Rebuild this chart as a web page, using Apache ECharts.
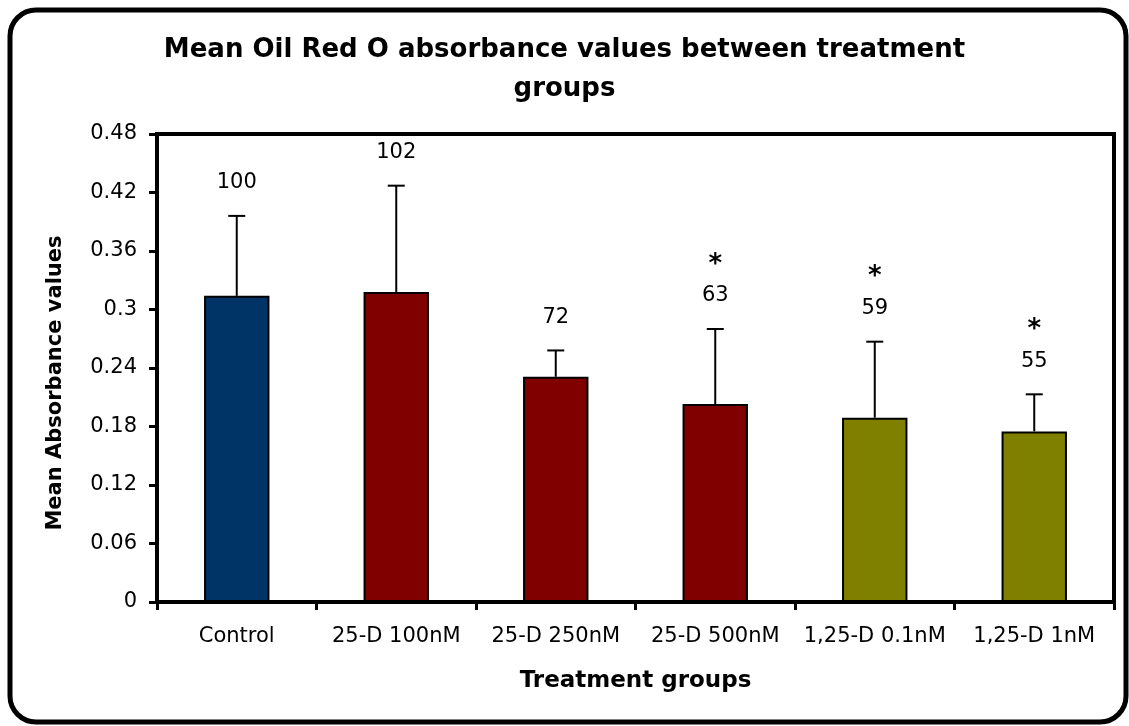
<!DOCTYPE html>
<html>
<head>
<meta charset="utf-8">
<script src="https://cdn.jsdelivr.net/npm/echarts@6/dist/echarts.min.js"></script>
<style>
html,body{margin:0;padding:0;background:#fff;}
#chart{width:1129px;height:726px;}
</style>
</head>
<body>
<div id="chart"></div>
<script>
// ---- data ----
const categories = ['Control', '25-D 100nM', '25-D 250nM', '25-D 500nM', '1,25-D 0.1nM', '1,25-D 1nM'];
const means = [0.314, 0.318, 0.231, 0.203, 0.189, 0.175];
const errors = [0.082, 0.109, 0.027, 0.077, 0.078, 0.038];
const percentLabels = ['100', '102', '72', '63', '59', '55'];
const significant = [false, false, false, true, true, true];
const yTicks = [0, 0.06, 0.12, 0.18, 0.24, 0.3, 0.36, 0.42, 0.48];

// ---- style ----
const groupColors = ['#003366', '#800000', '#800000', '#800000', '#808000', '#808000'];
const FONT = 'DejaVu Sans';

const chart = echarts.init(document.getElementById('chart'), null, {renderer: 'canvas'});

const barData = means.map((v, i) => ({
  value: v,
  itemStyle: {color: groupColors[i], borderColor: '#000', borderWidth: 2}
}));
const errData = means.map((v, i) => [i, v, errors[i], percentLabels[i], significant[i] ? 1 : 0]);

const option = {
  animation: false,
  backgroundColor: '#fff',
  title: {
    text: 'Mean Oil Red O absorbance values between treatment\ngroups',
    left: 'center',
    top: 31,
    padding: 0,
    textStyle: {fontFamily: FONT, fontWeight: 'bold', fontSize: 26, lineHeight: 39, color: '#000'}
  },
  grid: {left: 157, right: 15, top: 134, bottom: 124, show: true, borderColor: '#000', borderWidth: 4, backgroundColor: 'transparent'},
  xAxis: {
    type: 'category',
    data: categories,
    boundaryGap: true,
    name: 'Treatment groups',
    nameLocation: 'middle',
    nameGap: 68,
    nameTextStyle: {fontFamily: FONT, fontWeight: 'bold', fontSize: 23, color: '#000'},
    axisLine: {lineStyle: {color: '#000', width: 4}},
    axisTick: {show: true, alignWithLabel: false, length: 8, lineStyle: {color: '#000', width: 3}},
    axisLabel: {color: '#000', fontFamily: FONT, fontSize: 21, margin: 24, interval: 0},
    splitLine: {show: false}
  },
  yAxis: {
    type: 'value',
    min: 0,
    max: yTicks[yTicks.length - 1],
    interval: yTicks[1] - yTicks[0],
    name: 'Mean Absorbance values',
    nameLocation: 'middle',
    nameGap: 91,
    nameRotate: 90,
    nameTextStyle: {fontFamily: FONT, fontWeight: 'bold', fontSize: 21, color: '#000', padding: [0, 30, 0, 0]},
    axisLine: {show: true, lineStyle: {color: '#000', width: 4}},
    axisTick: {show: true, length: 8, lineStyle: {color: '#000', width: 3}},
    axisLabel: {color: '#000', fontFamily: FONT, fontSize: 21, margin: 20, formatter: v => String(+v.toFixed(2))},
    splitLine: {show: false}
  },
  series: [
    {
      type: 'bar',
      data: barData,
      barWidth: '41%',
      z: 2
    },
    {
      type: 'custom',
      z: 3,
      encode: {x: 0, y: 1},
      data: errData,
      renderItem: function (params, api) {
        const idx = api.value(0);
        const m = api.value(1);
        const e = api.value(2);
        const base = api.coord([idx, m]);
        const top = api.coord([idx, m + e]);
        const cap = 8.5;
        const children = [
          {type: 'line', shape: {x1: base[0], y1: base[1], x2: top[0], y2: top[1]}, style: {stroke: '#000', lineWidth: 2}},
          {type: 'line', shape: {x1: top[0] - cap, y1: top[1], x2: top[0] + cap, y2: top[1]}, style: {stroke: '#000', lineWidth: 2}},
          {type: 'text', style: {text: String(api.value(3)), x: top[0], y: top[1] - 33, align: 'center', verticalAlign: 'middle', fontFamily: FONT, fontSize: 21, fill: '#000'}}
        ];
        if (api.value(4)) {
          children.push({type: 'text', style: {text: '*', x: top[0], y: top[1] - 64, align: 'center', verticalAlign: 'middle', fontFamily: FONT, fontWeight: 'bold', fontSize: 26, fill: '#000'}});
        }
        return {type: 'group', children: children};
      }
    }
  ],
  graphic: [
    {type: 'rect', shape: {x: 10, y: 10, width: 1116, height: 712, r: 26}, style: {fill: 'none', stroke: '#000', lineWidth: 5}, z: 100, silent: true}
  ]
};
chart.setOption(option);
</script>
</body>
</html>
